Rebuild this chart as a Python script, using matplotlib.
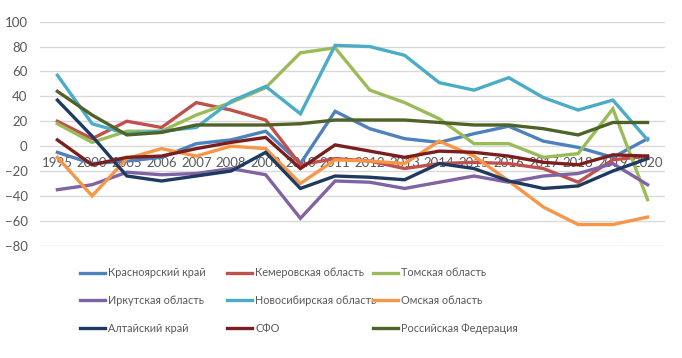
import matplotlib
matplotlib.use("Agg")
import matplotlib.pyplot as plt

# ========================================================
# Data
# ========================================================
years = ["1995", "2000", "2005", "2006", "2007", "2008", "2009", "2010", "2011",
         "2012", "2013", "2014", "2015", "2016", "2017", "2018", "2019", "2020"]

krasnoyarsk = [-5, -14, -12, -9, 2, 5, 12, -14, 28, 14, 6, 3, 10, 16, 4, -1, -9, 6]
kemerovo = [20, 6, 20, 15, 35, 29, 21, -15, -10, -12, -18, -14, -13, -14, -18, -29, -11, -8]
tomsk = [18, 3, 12, 12, 25, 35, 47, 75, 79, 45, 35, 22, 2, 2, -9, -6, 30, -43]
irkutsk = [-35, -31, -21, -23, -22, -18, -23, -58, -28, -29, -34, -29, -24, -29, -24, -22, -14, -31]
novosibirsk = [57, 18, 10, 12, 15, 36, 48, 26, 81, 80, 73, 51, 45, 55, 39, 29, 37, 5]
omsk = [-9, -40, -10, -2, -8, 0, -2, -30, -11, -12, -14, 4, -8, -28, -49, -63, -63, -57]
altai = [37, 8, -24, -28, -24, -20, -5, -34, -24, -25, -27, -14, -18, -28, -34, -32, -20, -10]
sfo = [5, -15, -9, -8, -2, 3, 7, -18, 1, -4, -9, -4, -5, -8, -13, -15, -7, -8]
russia = [44, 25, 9, 11, 17, 17, 17, 18, 21, 21, 21, 19, 17, 17, 14, 9, 19, 19]

names = ["Красноярский край", "Кемеровская область", "Томская область",
         "Иркутская область", "Новосибирская область", "Омская область",
         "Алтайский край", "СФО", "Российская Федерация"]
series = [krasnoyarsk, kemerovo, tomsk, irkutsk, novosibirsk, omsk, altai, sfo, russia]
colors = ["#4F81BD", "#C0504D", "#9BBB59", "#8064A2", "#4BACC6", "#F79646",
          "#1F3A60", "#7A1E1E", "#4F6228"]

# ========================================================
# Plot
# ========================================================
plt.rcParams["font.family"] = ["Lato", "DejaVu Sans"]

fig = plt.figure(figsize=(6.82, 3.58), dpi=100)
ax = fig.add_axes([0.0587, 0.3137, 0.9163, 0.6257])

x = list(range(len(years)))
handles = []
for name, vals, col in zip(names, series, colors):
    (h,) = ax.plot(x, vals, color=col, linewidth=2.4, label=name,
                   solid_joinstyle="miter")
    handles.append(h)

ax.set_xlim(-0.5, len(years) - 0.5)
ax.set_ylim(-80, 100)
ax.set_yticks(range(-80, 101, 20))
ax.set_xticks(x)
ax.set_xticklabels(years)
ax.grid(axis="y", color="#D9D9D9", linewidth=1)
ax.set_axisbelow(True)
for s in ["top", "right", "left"]:
    ax.spines[s].set_visible(False)
ax.spines["bottom"].set_position(("data", 0))
ax.spines["bottom"].set_visible(False)
ax.tick_params(axis="both", length=0, labelsize=9.5, colors="#595959")
ax.tick_params(axis="x", pad=8)
ax.tick_params(axis="y", pad=9)

# legend: three equal-width columns, filled row-wise like Excel
col_x = [0.1173, 0.3328, 0.5469]
for c in range(3):
    idx = [c, c + 3, c + 6]
    leg = fig.legend([handles[i] for i in idx], [names[i] for i in idx],
                     loc="upper left", bbox_to_anchor=(col_x[c], 0.253),
                     frameon=False, fontsize=7.8, handlelength=2.35,
                     handletextpad=0.25, labelspacing=1.55, borderpad=0,
                     borderaxespad=0)
    for t in leg.get_texts():
        t.set_color("#595959")

fig.savefig("out.png", dpi=100)
